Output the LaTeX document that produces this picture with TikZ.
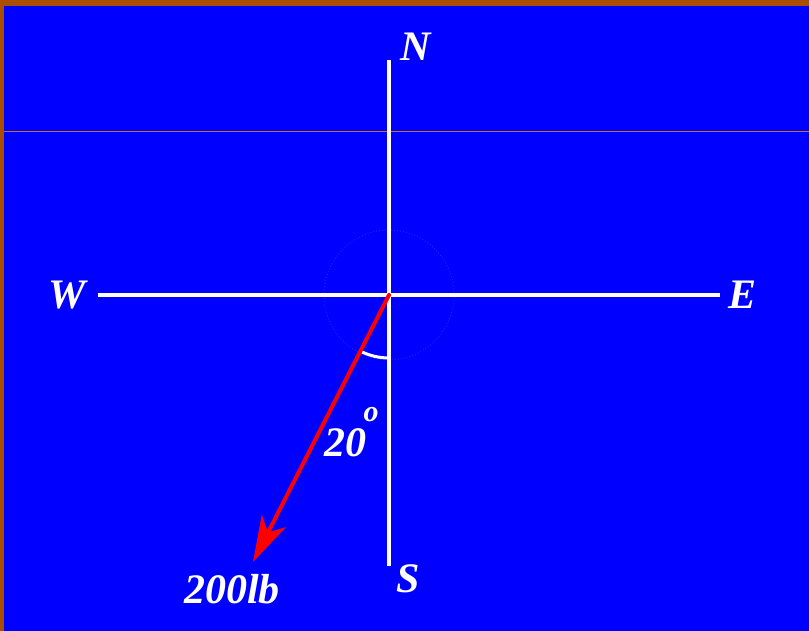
\documentclass[tikz,border=0pt]{standalone}
\usepackage{fontspec}
\setmainfont{Liberation Serif}
\usetikzlibrary{arrows.meta}
\definecolor{bgblue}{RGB}{0,0,255}
\definecolor{frameorange}{RGB}{172,78,0}
\begin{document}
\begin{tikzpicture}[x=1pt,y=1pt,
  axis/.style={white,line width=4.5pt},
  force/.style={red,line width=4pt,line cap=round,-{Stealth[length=46pt,width=27pt,inset=13pt]}},
  anglearc/.style={white,line width=3pt},
  lbl/.style={text=white,inner sep=0pt,font=\fontsize{42}{42}\selectfont\bfseries\itshape},
  smalllbl/.style={text=white,inner sep=0pt,font=\fontsize{30}{30}\selectfont\bfseries\itshape}]
\useasboundingbox (0,0) rectangle (809,631);
\fill[bgblue] (0,0) rectangle (809,631);
\fill[frameorange] (0,625) rectangle (809,631);
\fill[frameorange] (0,0) rectangle (4,631);
\fill[frameorange!80!white] (4,499.6) rectangle (809,500.4);
% faint dotted circle
\draw[blue!88!white,line width=1pt,dotted] (389,336) circle (65);
% coordinates
\coordinate (O) at (389,336);
\coordinate (Ntop) at (389,571);
\coordinate (Sbot) at (389,65);
\coordinate (Wend) at (98,336);
\coordinate (Eend) at (720,336);
\coordinate (F) at (253,69);
% axes
\draw[axis] (Ntop) -- (Sbot);
\draw[axis] (Wend) -- (Eend);
% angle arc
\draw[anglearc] (O) ++(243:63) arc[start angle=243,end angle=270,radius=63];
% force
\draw[force] (O) -- (F);
% labels
\node[lbl] (N) at (416,584) {N};
\node[lbl] (S) at (408,52) {S};
\node[lbl] (W) at (67,336) {W};
\node[lbl] (E) at (742,336) {E};
\node[lbl] (force) at (232,42) {200lb};
\node[lbl] (ang) at (345,188) {20};
\node[smalllbl] (deg) at (371,216) {o};
\end{tikzpicture}
\end{document}
